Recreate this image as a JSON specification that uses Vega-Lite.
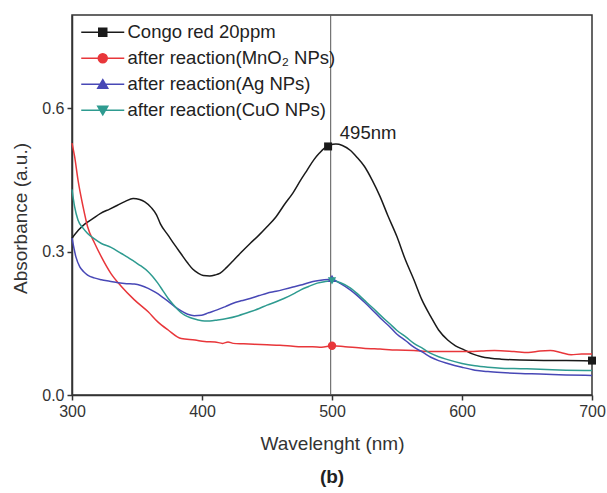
{
  "$schema": "https://vega.github.io/schema/vega-lite/v6.json",
  "width": 520,
  "height": 380,
  "autosize": {"type": "none"},
  "padding": {"left": 72, "top": 15, "right": 15, "bottom": 98},
  "config": {"font": "Liberation Sans", "view": {"stroke": "#333", "strokeWidth": 1.5}},
  "title": {"text": "(b)", "orient": "bottom", "anchor": "middle", "fontSize": 19, "fontWeight": "bold", "color": "#222", "offset": 15},
  "datasets": {
    "curves": [
      {"s":"C","x":300,"y":0.328},{"s":"C","x":305,"y":0.345},{"s":"C","x":310,"y":0.358},{"s":"C","x":316,"y":0.369},{"s":"C","x":322,"y":0.38},{"s":"C","x":329,"y":0.389},{"s":"C","x":335,"y":0.397},{"s":"C","x":341,"y":0.405},{"s":"C","x":347,"y":0.411},{"s":"C","x":352,"y":0.409},{"s":"C","x":356,"y":0.404},{"s":"C","x":361,"y":0.392},{"s":"C","x":365,"y":0.377},{"s":"C","x":368,"y":0.358},{"s":"C","x":374,"y":0.334},{"s":"C","x":379,"y":0.314},{"s":"C","x":384,"y":0.295},{"s":"C","x":389,"y":0.276},{"s":"C","x":393,"y":0.263},{"s":"C","x":397,"y":0.255},{"s":"C","x":401,"y":0.25},{"s":"C","x":406,"y":0.249},{"s":"C","x":410,"y":0.251},{"s":"C","x":414,"y":0.255},{"s":"C","x":419,"y":0.267},{"s":"C","x":424,"y":0.281},{"s":"C","x":430,"y":0.298},{"s":"C","x":437,"y":0.317},{"s":"C","x":444,"y":0.335},{"s":"C","x":450,"y":0.352},{"s":"C","x":457,"y":0.373},{"s":"C","x":463,"y":0.397},{"s":"C","x":470,"y":0.423},{"s":"C","x":476,"y":0.45},{"s":"C","x":481,"y":0.471},{"s":"C","x":486,"y":0.492},{"s":"C","x":490,"y":0.505},{"s":"C","x":494,"y":0.516},{"s":"C","x":498,"y":0.522},{"s":"C","x":503,"y":0.525},{"s":"C","x":508,"y":0.522},{"s":"C","x":514,"y":0.512},{"s":"C","x":519,"y":0.498},{"s":"C","x":525,"y":0.478},{"s":"C","x":531,"y":0.449},{"s":"C","x":537,"y":0.415},{"s":"C","x":543,"y":0.375},{"s":"C","x":550,"y":0.331},{"s":"C","x":556,"y":0.286},{"s":"C","x":563,"y":0.241},{"s":"C","x":569,"y":0.2},{"s":"C","x":576,"y":0.164},{"s":"C","x":582,"y":0.136},{"s":"C","x":589,"y":0.115},{"s":"C","x":595,"y":0.103},{"s":"C","x":602,"y":0.094},{"s":"C","x":608,"y":0.086},{"s":"C","x":615,"y":0.08},{"s":"C","x":622,"y":0.077},{"s":"C","x":630,"y":0.075},{"s":"C","x":645,"y":0.073},{"s":"C","x":663,"y":0.072},{"s":"C","x":680,"y":0.072},{"s":"C","x":700,"y":0.071},
      {"s":"M","x":300,"y":0.527},{"s":"M","x":302,"y":0.499},{"s":"M","x":304.6,"y":0.45},{"s":"M","x":308.5,"y":0.394},{"s":"M","x":312,"y":0.352},{"s":"M","x":317.5,"y":0.317},{"s":"M","x":322.6,"y":0.289},{"s":"M","x":330,"y":0.254},{"s":"M","x":338,"y":0.227},{"s":"M","x":348,"y":0.199},{"s":"M","x":358.6,"y":0.174},{"s":"M","x":366,"y":0.153},{"s":"M","x":374,"y":0.136},{"s":"M","x":384,"y":0.118},{"s":"M","x":394.6,"y":0.115},{"s":"M","x":402,"y":0.112},{"s":"M","x":410,"y":0.111},{"s":"M","x":416,"y":0.108},{"s":"M","x":420,"y":0.111},{"s":"M","x":424,"y":0.108},{"s":"M","x":432,"y":0.107},{"s":"M","x":440,"y":0.106},{"s":"M","x":450,"y":0.105},{"s":"M","x":460,"y":0.104},{"s":"M","x":470,"y":0.102},{"s":"M","x":476,"y":0.101},{"s":"M","x":485,"y":0.101},{"s":"M","x":492,"y":0.1},{"s":"M","x":500,"y":0.103},{"s":"M","x":510,"y":0.101},{"s":"M","x":524,"y":0.098},{"s":"M","x":537,"y":0.096},{"s":"M","x":550,"y":0.094},{"s":"M","x":563,"y":0.093},{"s":"M","x":576,"y":0.091},{"s":"M","x":590,"y":0.091},{"s":"M","x":602,"y":0.091},{"s":"M","x":615,"y":0.092},{"s":"M","x":625,"y":0.093},{"s":"M","x":640,"y":0.091},{"s":"M","x":651,"y":0.089},{"s":"M","x":660,"y":0.092},{"s":"M","x":668,"y":0.093},{"s":"M","x":676,"y":0.089},{"s":"M","x":684,"y":0.084},{"s":"M","x":692,"y":0.086},{"s":"M","x":700,"y":0.086},
      {"s":"A","x":300,"y":0.328},{"s":"A","x":303,"y":0.289},{"s":"A","x":306,"y":0.268},{"s":"A","x":309,"y":0.258},{"s":"A","x":312,"y":0.251},{"s":"A","x":317,"y":0.245},{"s":"A","x":322.6,"y":0.241},{"s":"A","x":329,"y":0.238},{"s":"A","x":335.5,"y":0.235},{"s":"A","x":342,"y":0.233},{"s":"A","x":348,"y":0.232},{"s":"A","x":353,"y":0.229},{"s":"A","x":358.6,"y":0.223},{"s":"A","x":364,"y":0.215},{"s":"A","x":369,"y":0.206},{"s":"A","x":374,"y":0.196},{"s":"A","x":379,"y":0.185},{"s":"A","x":384,"y":0.176},{"s":"A","x":389,"y":0.169},{"s":"A","x":394,"y":0.166},{"s":"A","x":399.7,"y":0.167},{"s":"A","x":405,"y":0.172},{"s":"A","x":411.6,"y":0.178},{"s":"A","x":418,"y":0.185},{"s":"A","x":424,"y":0.192},{"s":"A","x":430,"y":0.197},{"s":"A","x":437,"y":0.202},{"s":"A","x":444,"y":0.208},{"s":"A","x":450,"y":0.213},{"s":"A","x":457,"y":0.217},{"s":"A","x":463,"y":0.221},{"s":"A","x":470,"y":0.226},{"s":"A","x":476,"y":0.23},{"s":"A","x":482,"y":0.235},{"s":"A","x":488.7,"y":0.239},{"s":"A","x":494,"y":0.241},{"s":"A","x":500,"y":0.242},{"s":"A","x":506.6,"y":0.233},{"s":"A","x":514,"y":0.22},{"s":"A","x":519,"y":0.209},{"s":"A","x":524.6,"y":0.195},{"s":"A","x":531,"y":0.178},{"s":"A","x":537.5,"y":0.16},{"s":"A","x":544,"y":0.144},{"s":"A","x":550,"y":0.127},{"s":"A","x":557,"y":0.113},{"s":"A","x":563,"y":0.1},{"s":"A","x":570,"y":0.089},{"s":"A","x":576,"y":0.079},{"s":"A","x":582,"y":0.072},{"s":"A","x":589,"y":0.066},{"s":"A","x":600,"y":0.058},{"s":"A","x":610,"y":0.052},{"s":"A","x":620,"y":0.049},{"s":"A","x":630,"y":0.047},{"s":"A","x":645,"y":0.045},{"s":"A","x":660,"y":0.044},{"s":"A","x":680,"y":0.042},{"s":"A","x":700,"y":0.041},
      {"s":"U","x":300,"y":0.43},{"s":"U","x":302,"y":0.394},{"s":"U","x":304.6,"y":0.366},{"s":"U","x":308.5,"y":0.349},{"s":"U","x":312,"y":0.338},{"s":"U","x":317,"y":0.327},{"s":"U","x":322.6,"y":0.317},{"s":"U","x":330,"y":0.309},{"s":"U","x":338,"y":0.296},{"s":"U","x":343,"y":0.288},{"s":"U","x":348,"y":0.279},{"s":"U","x":353,"y":0.27},{"s":"U","x":358.6,"y":0.258},{"s":"U","x":362,"y":0.248},{"s":"U","x":366,"y":0.234},{"s":"U","x":370,"y":0.218},{"s":"U","x":374,"y":0.202},{"s":"U","x":378,"y":0.189},{"s":"U","x":381.7,"y":0.178},{"s":"U","x":385,"y":0.17},{"s":"U","x":389,"y":0.164},{"s":"U","x":393,"y":0.16},{"s":"U","x":397,"y":0.157},{"s":"U","x":402,"y":0.155},{"s":"U","x":406,"y":0.155},{"s":"U","x":412,"y":0.157},{"s":"U","x":419,"y":0.16},{"s":"U","x":428,"y":0.166},{"s":"U","x":437,"y":0.174},{"s":"U","x":444,"y":0.181},{"s":"U","x":450,"y":0.188},{"s":"U","x":457,"y":0.195},{"s":"U","x":463,"y":0.202},{"s":"U","x":470,"y":0.211},{"s":"U","x":476,"y":0.22},{"s":"U","x":482,"y":0.227},{"s":"U","x":488.7,"y":0.234},{"s":"U","x":494,"y":0.237},{"s":"U","x":500,"y":0.239},{"s":"U","x":506.6,"y":0.235},{"s":"U","x":514,"y":0.224},{"s":"U","x":519,"y":0.213},{"s":"U","x":524.6,"y":0.199},{"s":"U","x":531,"y":0.183},{"s":"U","x":537.5,"y":0.166},{"s":"U","x":544,"y":0.15},{"s":"U","x":550,"y":0.135},{"s":"U","x":557,"y":0.121},{"s":"U","x":563,"y":0.108},{"s":"U","x":570,"y":0.097},{"s":"U","x":576,"y":0.087},{"s":"U","x":582,"y":0.08},{"s":"U","x":589,"y":0.074},{"s":"U","x":600,"y":0.066},{"s":"U","x":610,"y":0.061},{"s":"U","x":620,"y":0.058},{"s":"U","x":630,"y":0.056},{"s":"U","x":645,"y":0.055},{"s":"U","x":660,"y":0.054},{"s":"U","x":680,"y":0.052},{"s":"U","x":700,"y":0.051}
    ],
    "marks": [
      {"s":"C","x":497,"y":0.52},{"s":"C","x":700,"y":0.072},{"s":"M","x":500,"y":0.103},{"s":"A","x":500,"y":0.244},{"s":"U","x":500,"y":0.239}
    ]
  },
  "layer": [
    {
      "data": {"values": [{"x": 499}]},
      "mark": {"type": "rule", "color": "#555", "strokeWidth": 1},
      "encoding": {"x": {"field": "x", "type": "quantitative"}}
    },
    {
      "data": {"name": "curves"},
      "mark": {"type": "line", "strokeWidth": 1.5, "interpolate": "monotone"},
      "encoding": {
        "x": {"field": "x", "type": "quantitative", "scale": {"domain": [300, 700], "nice": false, "zero": false},
          "axis": {"values": [300, 400, 500, 600, 700], "grid": false, "labelFlush": false, "tickSize": 5, "tickWidth": 1.5, "tickColor": "#333", "domainColor": "#333", "domainWidth": 1.5, "labelFontSize": 16, "labelColor": "#333", "labelPadding": 3, "title": "Wavelenght (nm)", "titleFontSize": 19, "titleFontWeight": "normal", "titleColor": "#333", "titleBaseline": "middle", "titleY": 48}},
        "y": {"field": "y", "type": "quantitative", "scale": {"domain": [0, 0.795], "nice": false},
          "axis": {"values": [0, 0.3, 0.6], "format": ".1f", "grid": false, "tickSize": 5, "tickWidth": 1.5, "tickColor": "#333", "domainColor": "#333", "domainWidth": 1.5, "labelFontSize": 16, "labelColor": "#333", "labelPadding": 3, "title": "Absorbance (a.u.)", "titleFontSize": 19, "titleFontWeight": "normal", "titleColor": "#333", "titleAngle": 270, "titleBaseline": "middle", "titleX": -52, "titleY": 203}},
        "color": {"field": "s", "type": "nominal",
          "scale": {"domain": ["C", "M", "A", "U"], "range": ["#1a1a1a", "#e8363a", "#4848b6", "#2e9b90"]},
          "legend": {"title": null, "orient": "none", "legendX": 5, "legendY": 8, "padding": 0, "labelLimit": 400,
            "labelExpr": "datum.value === 'C' ? 'Congo red 20ppm' : datum.value === 'M' ? 'after reaction(MnO₂ NPs)' : datum.value === 'A' ? 'after reaction(Ag NPs)' : 'after reaction(CuO NPs)'",
            "labelFontSize": 18.5, "labelColor": "#222", "symbolSize": 100, "symbolStrokeWidth": 1.5, "labelOffset": 32, "rowPadding": 7,
            "encode": {"symbols": {"update": {
              "shape": {"signal": "datum.value === 'C' ? 'M-1,0H7.6M2.5,-0.8H4.1V0.8H2.5Z' : datum.value === 'M' ? 'M-1,0H7.6M4.2,0A0.9,0.9 0 1,1 2.4,0A0.9,0.9 0 1,1 4.2,0Z' : datum.value === 'A' ? 'M-1,0H7.6M3.3,-0.9L4.3,0.8H2.3Z' : 'M-1,0H7.6M3.3,0.9L4.3,-0.8H2.3Z'"},
              "fill": {"signal": "scale('color', datum.value)"},
              "stroke": {"signal": "scale('color', datum.value)"},
              "strokeWidth": {"value": 1.5},
              "opacity": {"value": 1},
              "fillOpacity": {"value": 1}
            }}}}}
      }
    },
    {
      "data": {"name": "marks"},
      "transform": [{"filter": "datum.s === 'C'"}],
      "mark": {"type": "point", "filled": true, "size": 64, "opacity": 1, "shape": "square"},
      "encoding": {"x": {"field": "x", "type": "quantitative"}, "y": {"field": "y", "type": "quantitative"}, "color": {"field": "s", "type": "nominal"}}
    },
    {
      "data": {"name": "marks"},
      "transform": [{"filter": "datum.s === 'M'"}],
      "mark": {"type": "point", "filled": true, "size": 70, "opacity": 1, "shape": "circle"},
      "encoding": {"x": {"field": "x", "type": "quantitative"}, "y": {"field": "y", "type": "quantitative"}, "color": {"field": "s", "type": "nominal"}}
    },
    {
      "data": {"name": "marks"},
      "transform": [{"filter": "datum.s === 'A'"}],
      "mark": {"type": "point", "filled": true, "size": 70, "opacity": 1, "shape": "triangle-up"},
      "encoding": {"x": {"field": "x", "type": "quantitative"}, "y": {"field": "y", "type": "quantitative"}, "color": {"field": "s", "type": "nominal"}}
    },
    {
      "data": {"name": "marks"},
      "transform": [{"filter": "datum.s === 'U'"}],
      "mark": {"type": "point", "filled": true, "size": 70, "opacity": 1, "shape": "triangle-down"},
      "encoding": {"x": {"field": "x", "type": "quantitative"}, "y": {"field": "y", "type": "quantitative"}, "color": {"field": "s", "type": "nominal"}}
    },
    {
      "data": {"values": [{"x": 506, "y": 0.548, "t": "495nm"}]},
      "mark": {"type": "text", "fontSize": 18.5, "color": "#222", "align": "left", "baseline": "middle"},
      "encoding": {"x": {"field": "x", "type": "quantitative"}, "y": {"field": "y", "type": "quantitative"}, "text": {"field": "t"}}
    }
  ]
}
